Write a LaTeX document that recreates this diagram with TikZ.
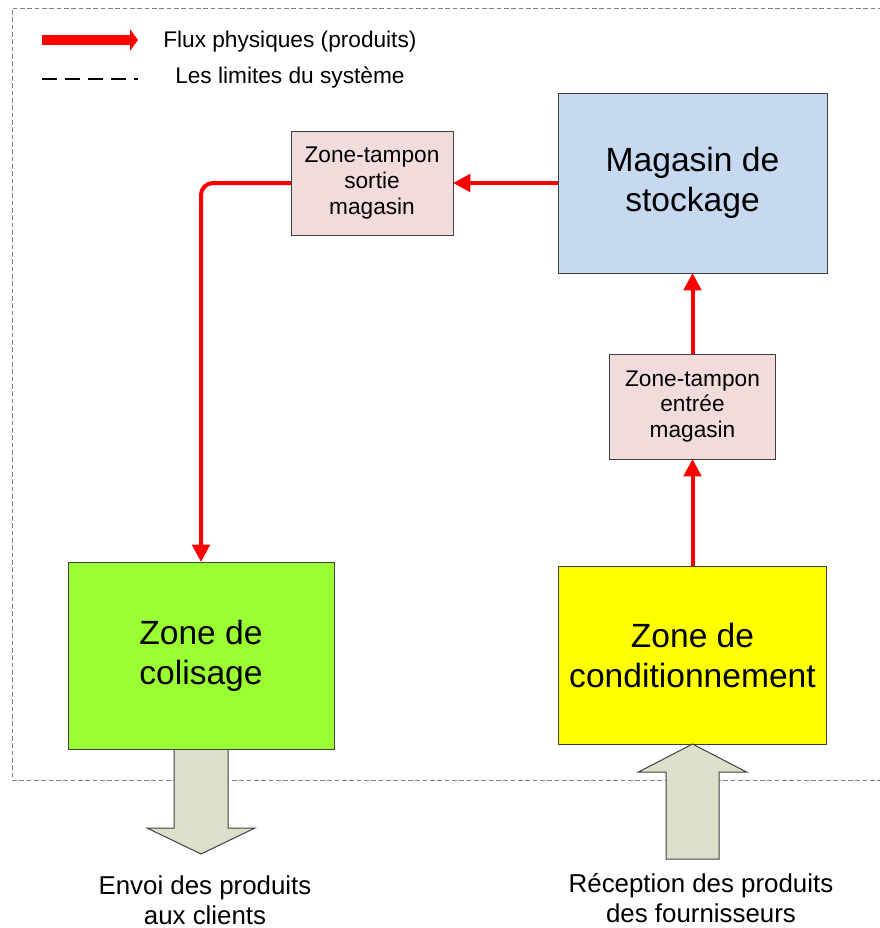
\documentclass[tikz,border=0pt]{standalone}
\usepackage{fontspec}
\setmainfont{Liberation Sans}
\usetikzlibrary{arrows.meta}
\definecolor{magblue}{HTML}{C6D9F1}
\definecolor{tampon}{HTML}{F2DCDB}
\definecolor{colgreen}{HTML}{99FF33}
\definecolor{condyellow}{HTML}{FFFF00}
\definecolor{blockgray}{HTML}{DCE0CB}
\definecolor{edgegray}{HTML}{404040}
\definecolor{flowred}{HTML}{FF0000}
\tikzset{
  zonebox/.style={draw=edgegray, line width=0.75pt, inner sep=0pt, outer sep=0pt, align=center,
    font=\fontsize{25.2}{30}\selectfont},
  bufferbox/.style={draw=edgegray, line width=0.75pt, fill=tampon, inner sep=0pt, outer sep=0pt, align=center,
    font=\fontsize{17}{19.2}\selectfont, minimum width=121.5pt, minimum height=78pt},
  flow/.style={draw=flowred, line width=3pt, -{Triangle[length=13pt,width=13pt]}},
  boundary/.style={draw=gray, line width=0.75pt, dash pattern=on 3.5pt off 2pt},
  blockarrow/.style={draw=edgegray, line width=0.75pt, fill=blockgray, line join=miter},
  legendtext/.style={font=\fontsize{17}{19.2}\selectfont, inner sep=0pt, anchor=base west},
  outtext/.style={font=\fontsize{19.4}{22.5}\selectfont, align=center, inner sep=0pt}
}
\begin{document}
\begin{tikzpicture}[x=0.75pt,y=-0.75pt]
\useasboundingbox (0,0) rectangle (880,928);

% system boundary
\draw[boundary] (890,8) -- (12,8) -- (12,780) -- (890,780);

% boxes
\node[zonebox, fill=magblue, minimum width=201.75pt, minimum height=135pt] (magasin) at (692.5,183) {Magasin de\\stockage};
\node[bufferbox] (sortie) at (372,183) {Zone-tampon\\sortie\\magasin};
\node[bufferbox, minimum width=124.5pt, minimum height=78.75pt] (entree) at (692.5,406.5) {Zone-tampon\\entrée\\magasin};
\node[zonebox, fill=colgreen, minimum width=199.5pt, minimum height=140.25pt] (colisage) at (201,655.5) {Zone de\\colisage};
\node[zonebox, fill=condyellow, minimum width=201pt, minimum height=133.5pt] (cond) at (692.5,655) {Zone de\\conditionnement};

% block arrows (in/out of the system)
\begin{scope}[shift={(colisage.south)}]
  \draw[blockarrow] (-27,0) -- (-27,79) -- (-54,79) -- (0,105) -- (54,79) -- (27,79) -- (27,0);
\end{scope}
\begin{scope}[shift={(cond.south)}]
  \draw[blockarrow] (0,0) -- (54,28) -- (26.5,28) -- (26.5,115) -- (-26.5,115) -- (-26.5,28) -- (-54,28) -- cycle;
\end{scope}
% redraw box bottom over the block arrow
\draw[draw=edgegray, line width=0.75pt] (colisage.south west) -- (colisage.south east);

% outside texts
\node[outtext] (envoi) at (205,900) {Envoi des produits\\aux clients};
\node[outtext] (reception) at (701,898) {Réception des produits\\des fournisseurs};

% physical flows
\draw[flow] (magasin.west) -- (sortie.east);
\draw[flow, rounded corners=9pt] (sortie.west) -| (colisage.north);
\draw[flow] (cond.north) -- (entree.south);
\draw[flow] (entree.north) -- (magasin.south);

% legend
\coordinate (legA) at (42,40);
\coordinate (legB) at (138,40);
\draw[draw=flowred, line width=7.5pt, -{Triangle[length=6pt,width=16pt]}] (legA) -- (legB);
\node[legendtext] (legflux) at (163,47) {Flux physiques (produits)};
\coordinate (legC) at (42,79);
\coordinate (legD) at (138,79);
\draw[draw=black, line width=0.9pt, dash pattern=on 11.25pt off 6pt] (legC) -- (legD);
\node[legendtext] (leglim) at (175,83) {Les limites du système};
\end{tikzpicture}
\end{document}
